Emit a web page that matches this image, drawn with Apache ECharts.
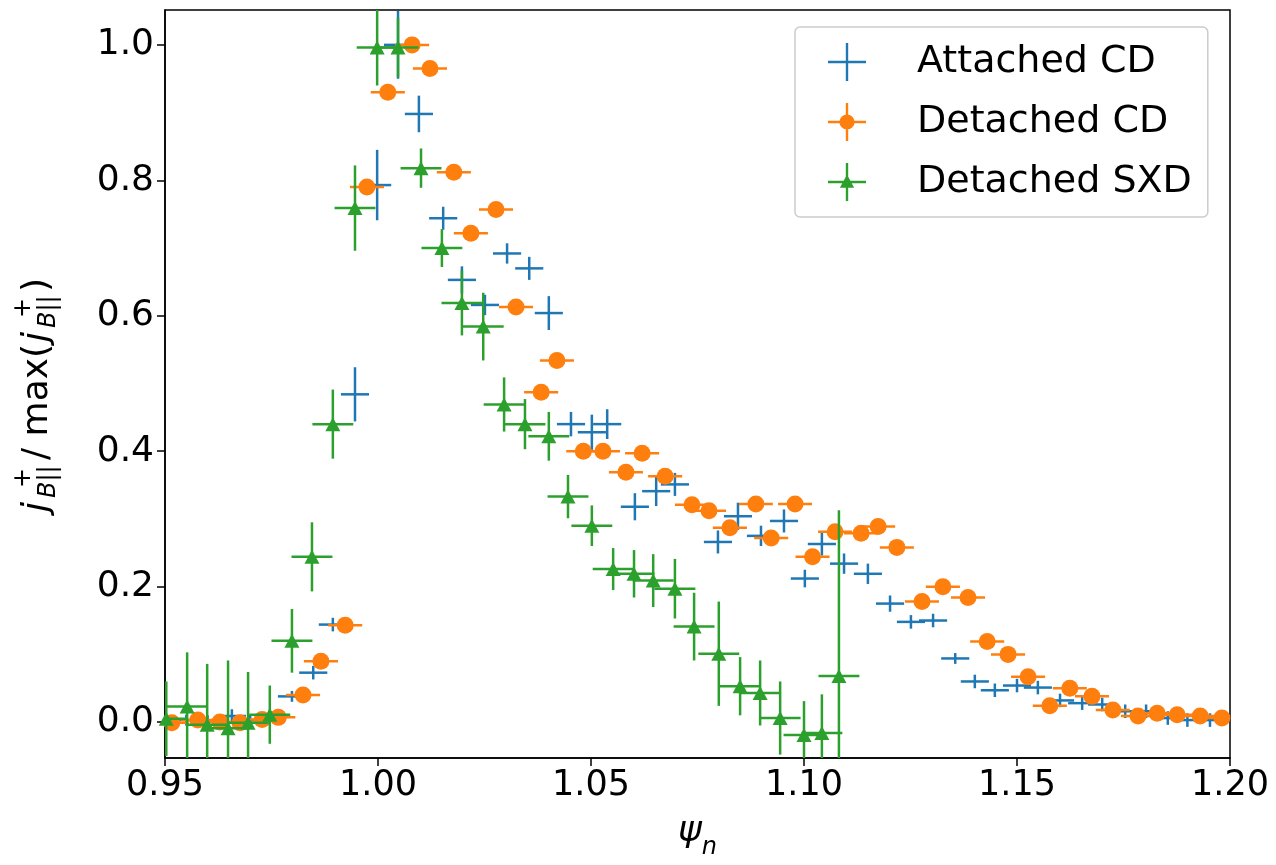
<!DOCTYPE html>
<html>
<head>
<meta charset="utf-8">
<script src="https://cdn.jsdelivr.net/npm/echarts@6/dist/echarts.min.js"></script>
<style>
html,body{margin:0;padding:0;background:#fff;}
#chart{width:1276px;height:865px;}
</style>
</head>
<body>
<div id="chart"></div>
<script>
// ---- data ----
const seriesNames = ['Attached CD', 'Detached CD', 'Detached SXD'];
const xTicks = [0.95, 1.00, 1.05, 1.10, 1.15, 1.20];
const yTicks = [0.0, 0.2, 0.4, 0.6, 0.8, 1.0];

const attachedX = [0.950,0.955,0.960,0.9657,0.970,0.975,0.9798,0.9848,0.9894,0.9946,0.9998,1.0047,1.0096,1.0153,1.0197,1.0251,1.0303,1.0355,1.0401,1.0453,1.0502,1.0538,1.0603,1.0653,1.0697,1.0798,1.0845,1.0899,1.0953,1.1002,1.1042,1.1094,1.1150,1.1202,1.1251,1.1303,1.1355,1.1401,1.1448,1.1500,1.1549,1.1601,1.1653,1.1700,1.1754,1.1803,1.1854,1.1900,1.1953];
const attachedY = [0.002,0.003,0.002,0.009,0.003,0.008,0.038,0.073,0.144,0.484,0.793,1.000,0.898,0.744,0.653,0.616,0.692,0.670,0.604,0.440,0.428,0.440,0.318,0.341,0.351,0.266,0.304,0.275,0.297,0.212,0.263,0.234,0.219,0.175,0.148,0.150,0.094,0.060,0.047,0.054,0.051,0.032,0.028,0.026,0.016,0.016,0.006,0.003,0.003];
const attachedYErr = [0.008,0.008,0.008,0.010,0.008,0.008,0.008,0.010,0.010,0.040,0.052,0.050,0.027,0.017,0.020,0.015,0.015,0.017,0.025,0.018,0.026,0.022,0.020,0.022,0.017,0.017,0.020,0.015,0.017,0.013,0.017,0.015,0.015,0.012,0.010,0.010,0.008,0.010,0.010,0.010,0.010,0.010,0.010,0.010,0.010,0.010,0.010,0.010,0.010];
const attachedXErr = 0.0033;

const detCdX = [0.9516,0.9577,0.9629,0.9676,0.9728,0.9766,0.9824,0.9866,0.9923,0.9974,1.0023,1.0080,1.0122,1.0178,1.0218,1.0277,1.0324,1.0383,1.0420,1.0482,1.0528,1.0582,1.0620,1.0674,1.0737,1.0777,1.0826,1.0887,1.0923,1.0979,1.1020,1.1073,1.1134,1.1174,1.1218,1.1277,1.1326,1.1385,1.1430,1.1479,1.1526,1.1577,1.1624,1.1676,1.1725,1.1784,1.1829,1.1876,1.1930,1.1981];
const detCdY = [-0.001,0.003,0.000,-0.001,0.004,0.007,0.040,0.090,0.143,0.790,0.930,1.000,0.965,0.812,0.722,0.757,0.613,0.487,0.534,0.400,0.400,0.369,0.397,0.363,0.321,0.312,0.287,0.322,0.272,0.322,0.244,0.281,0.279,0.289,0.258,0.178,0.200,0.184,0.119,0.100,0.067,0.024,0.050,0.038,0.018,0.009,0.013,0.011,0.009,0.006];
const detCdYErr = 0.010;
const detCdXErr = 0.0040;

const sxdX = [0.9503,0.9552,0.9599,0.9648,0.9695,0.9746,0.9798,0.9845,0.9894,0.9946,0.9998,1.0047,1.0101,1.0150,1.0197,1.0247,1.0296,1.0345,1.0401,1.0446,1.0502,1.0552,1.0601,1.0646,1.0697,1.0742,1.0800,1.0850,1.0897,1.0944,1.1000,1.1042,1.1082];
const sxdY = [0.005,0.023,-0.004,-0.009,-0.001,0.011,0.120,0.244,0.440,0.759,0.996,0.996,0.818,0.700,0.619,0.584,0.469,0.440,0.422,0.333,0.290,0.226,0.219,0.209,0.197,0.141,0.101,0.053,0.043,0.006,-0.019,-0.016,0.068];
const sxdYErr = [0.055,0.080,0.090,0.100,0.075,0.043,0.047,0.051,0.051,0.063,0.056,0.044,0.029,0.028,0.048,0.050,0.040,0.037,0.036,0.032,0.030,0.031,0.035,0.039,0.044,0.050,0.077,0.043,0.048,0.054,0.050,0.057,0.245];
const sxdXErr = 0.0048;

// ---- build ----
const C_BLUE = '#1f77b4', C_ORANGE = '#ff7f0e', C_GREEN = '#2ca02c';
const FONT = 'DejaVu Sans';

function pack(xs, ys, xe, ye) {
  return xs.map((x, i) => [x, ys[i], Array.isArray(xe) ? xe[i] : xe, Array.isArray(ye) ? ye[i] : ye]);
}
function errRender(color, lw) {
  return function (params, api) {
    const x = api.value(0), y = api.value(1), xe = api.value(2), ye = api.value(3);
    const l = api.coord([x - xe, y]), r = api.coord([x + xe, y]);
    const t = api.coord([x, y + ye]), b = api.coord([x, y - ye]);
    return {
      type: 'group',
      children: [
        { type: 'line', shape: { x1: l[0], y1: l[1], x2: r[0], y2: r[1] }, style: { stroke: color, lineWidth: lw } },
        { type: 'line', shape: { x1: t[0], y1: t[1], x2: b[0], y2: b[1] }, style: { stroke: color, lineWidth: lw } }
      ]
    };
  };
}

const crossPath = 'M0,18.75h40v2.5h-40z M18.75,0h2.5v40h-2.5z';
const iconBlue = 'path://' + crossPath;
const iconOrange = 'path://' + crossPath + ' M12,20a8,8 0 1,1 16,0a8,8 0 1,1 -16,0z';
const iconGreen = 'path://' + crossPath + ' M20,12 L27.5,26 L12.5,26 Z';

const attachedData = pack(attachedX, attachedY, attachedXErr, attachedYErr);
const detCdData = pack(detCdX, detCdY, detCdXErr, detCdYErr);
const sxdData = pack(sxdX, sxdY, sxdXErr, sxdYErr);

const chart = echarts.init(document.getElementById('chart'), null, { renderer: 'canvas' });

const ylab = [];
function piece(text, x, y, size, italic) {
  ylab.push({ type: 'text', x: x, y: y, style: { text: text, fill: '#000', font: (italic ? 'italic ' : '') + size + 'px "' + FONT + '"', verticalAlign: 'middle', align: 'left' } });
}
// y-axis label: j^+_{B||} / max(j^+_{B||})
piece('j', 0, -12.6, 36, true);
piece('B||', 14, -1, 24, true);
piece('+', 24, -26, 24, false);
piece('/ max(', 52, -12.6, 36, false);
piece('j', 170, -12.6, 36, true);
piece('B||', 184, -1, 24, true);
piece('+', 194, -26, 24, false);
piece(')', 220, -12.6, 36, false);

const option = {
  backgroundColor: '#ffffff',
  animation: false,
  grid: { left: 165, right: 46, top: 10, bottom: 105, show: true, borderColor: '#000', borderWidth: 1.5, backgroundColor: 'transparent' },
  xAxis: {
    type: 'value', min: 0.95, max: 1.20, interval: 0.05,
    name: '{a|ψ}{b|n}', nameLocation: 'middle', nameGap: 56,
    nameTextStyle: { rich: { a: { fontFamily: FONT, fontStyle: 'italic', fontSize: 36, color: '#000', lineHeight: 46, verticalAlign: 'top' }, b: { fontFamily: FONT, fontStyle: 'italic', fontSize: 24, color: '#000', lineHeight: 46, verticalAlign: 'bottom' } } },
    axisLine: { show: true, onZero: false, lineStyle: { color: '#000', width: 1.5 } },
    axisTick: { show: true, inside: false, length: 8, lineStyle: { color: '#000', width: 1.5 } },
    axisLabel: { show: true, margin: 10, color: '#000', fontFamily: FONT, fontSize: 35, formatter: v => v.toFixed(2), showMinLabel: true, showMaxLabel: true },
    splitLine: { show: false }
  },
  yAxis: {
    type: 'value', min: -0.053, max: 1.0515,
    axisLine: { show: true, onZero: false, lineStyle: { color: '#000', width: 1.5 } },
    axisTick: { show: true, inside: false, length: 8, lineStyle: { color: '#000', width: 1.5 }, customValues: yTicks },
    axisLabel: { show: true, margin: 11, color: '#000', fontFamily: FONT, fontSize: 36, formatter: v => v.toFixed(1), customValues: yTicks },
    splitLine: { show: false }
  },
  legend: {
    show: true, orient: 'vertical', left: 795, top: 27,
    padding: [16, 16, 16, 33], itemGap: 22, itemWidth: 38, itemHeight: 38,
    backgroundColor: '#fff', borderColor: '#cccccc', borderWidth: 1.5, borderRadius: 5,
    textStyle: { fontFamily: FONT, fontSize: 38, color: '#000', padding: [0, 0, 0, 46] },
    data: [
      { name: seriesNames[0], icon: iconBlue, itemStyle: { color: C_BLUE, borderWidth: 0 } },
      { name: seriesNames[1], icon: iconOrange, itemStyle: { color: C_ORANGE, borderWidth: 0 } },
      { name: seriesNames[2], icon: iconGreen, itemStyle: { color: C_GREEN, borderWidth: 0 } }
    ],
    selectedMode: false
  },
  graphic: [
    { type: 'group', x: 50, y: 512, rotation: Math.PI / 2, children: ylab, silent: true }
  ],
  series: [
    { name: seriesNames[0], type: 'custom', renderItem: errRender(C_BLUE, 2.5), data: attachedData, clip: true, z: 2, itemStyle: { color: C_BLUE }, encode: { x: 0, y: 1 } },
    { name: seriesNames[1], type: 'custom', renderItem: errRender(C_ORANGE, 2.5), data: detCdData, clip: true, z: 3, itemStyle: { color: C_ORANGE }, encode: { x: 0, y: 1 } },
    { name: seriesNames[1], type: 'scatter', data: detCdData.map(d => [d[0], d[1]]), symbol: 'circle', symbolSize: 17, clip: true, z: 4, itemStyle: { color: C_ORANGE, opacity: 1 } },
    { name: seriesNames[2], type: 'custom', renderItem: errRender(C_GREEN, 2.5), data: sxdData, clip: true, z: 5, itemStyle: { color: C_GREEN }, encode: { x: 0, y: 1 } },
    { name: seriesNames[2], type: 'scatter', data: sxdData.map(d => [d[0], d[1]]), symbol: 'triangle', symbolSize: [15, 14], clip: true, z: 6, itemStyle: { color: C_GREEN, opacity: 1 } }
  ]
};
chart.setOption(option);
</script>
</body>
</html>
